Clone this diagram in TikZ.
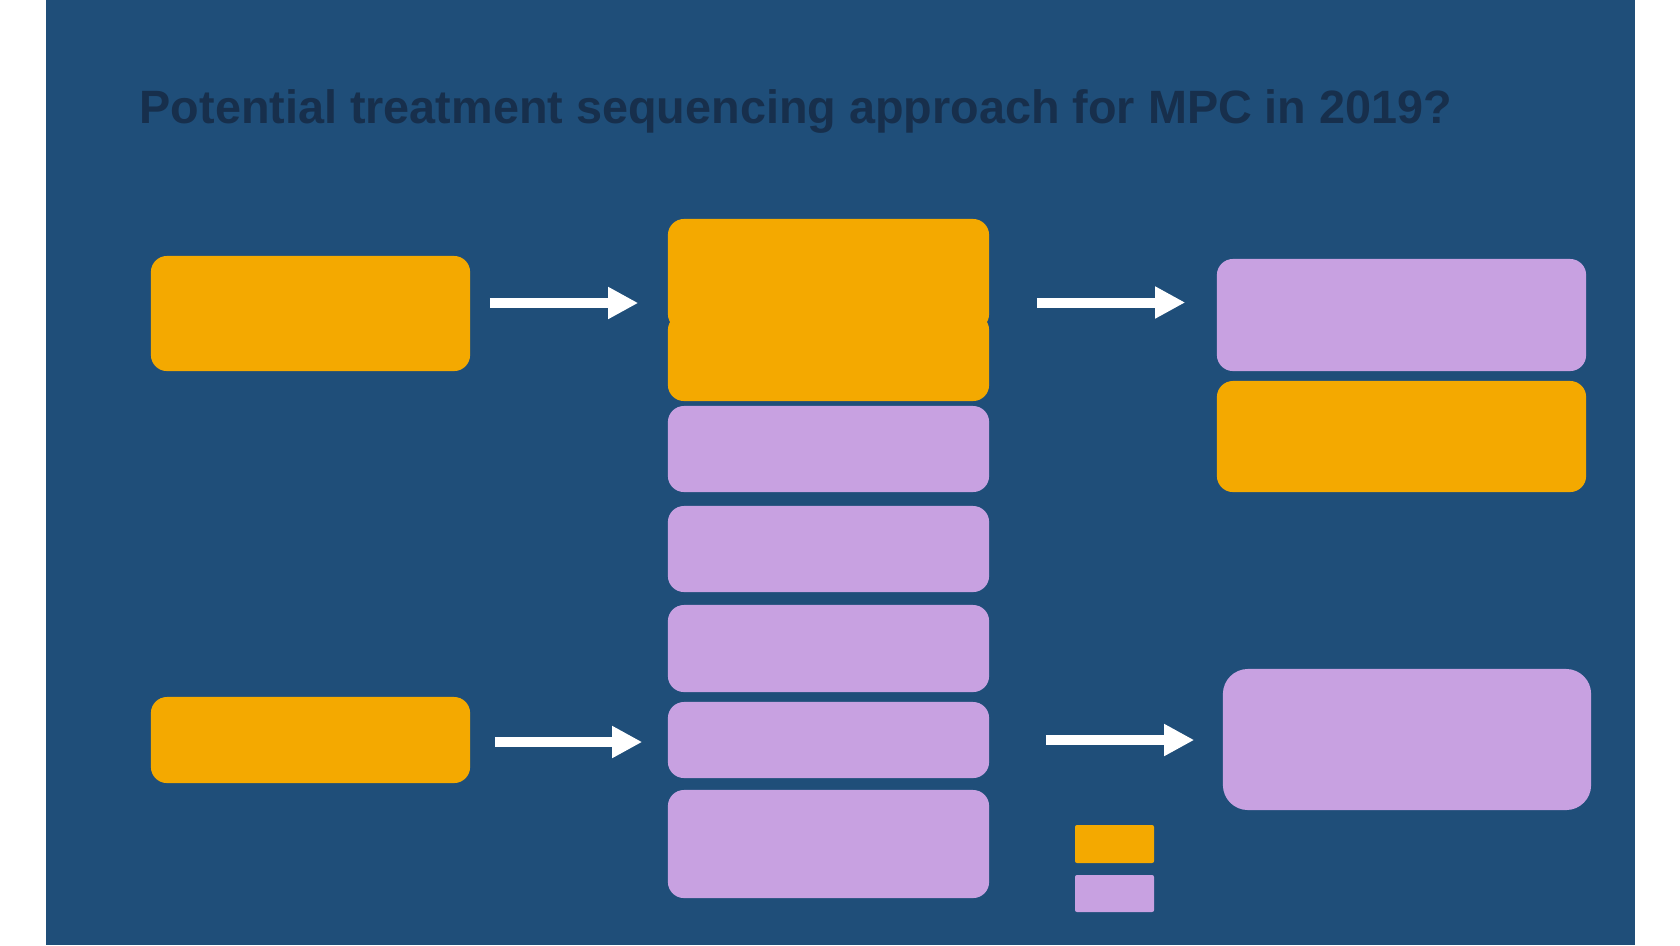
\documentclass[tikz,border=0pt]{standalone}
\usepackage{fontspec}
\setmainfont{Liberation Sans}
\usetikzlibrary{arrows.meta,calc}
\definecolor{bg}{HTML}{1F4E79}
\definecolor{gold}{HTML}{F4A900}
\definecolor{lilac}{HTML}{C8A1E1}
\definecolor{ink}{HTML}{172F4C}

\begin{document}
\begin{tikzpicture}[x=0.01cm, y=-0.01cm,
    box/.style={rounded corners=0.16cm, minimum width=3.21cm, inner sep=0pt},
    gbox/.style={box, fill=gold},
    pbox/.style={box, fill=lilac},
    key/.style={rounded corners=0.02cm, minimum width=0.79cm, inner sep=0pt},
    arr/.style={-{Triangle[length=0.3cm,width=0.3cm]}, line width=0.1cm, white}
]
\fill[white] (0,0) rectangle (1680,945);
\fill[bg] (46,0) rectangle (1635,945);
\node[anchor=base west, inner sep=0pt, text=ink, font=\fontsize{13.3pt}{16pt}\selectfont\bfseries] (title) at (139,123) {Potential treatment sequencing approach for MPC in 2019?};

% left column
\node[gbox, minimum width=3.19cm, minimum height=1.15cm] (ltop) at (310.5,313.5) {};
\node[gbox, minimum width=3.19cm, minimum height=0.86cm] (lbot) at (310.5,740) {};

% middle stack
\node[gbox, minimum height=1.11cm] (m1) at (828.5,274.5) {};
\node[gbox, minimum height=0.87cm] (m2) at (828.5,357.5) {};
\node[pbox, minimum height=0.86cm] (m3) at (828.5,449) {};
\node[pbox, minimum height=0.86cm] (m4) at (828.5,549) {};
\node[pbox, minimum height=0.87cm] (m5) at (828.5,648.5) {};
\node[pbox, minimum height=0.76cm] (m6) at (828.5,740) {};
\node[pbox, minimum height=1.08cm] (m7) at (828.5,844) {};

% right column
\node[pbox, minimum width=3.69cm, minimum height=1.12cm] (rtop) at (1401.5,315) {};
\node[gbox, minimum width=3.69cm, minimum height=1.11cm] (rmid) at (1401.5,436.5) {};
\node[pbox, minimum width=3.68cm, minimum height=1.41cm, rounded corners=0.25cm] (rbot) at (1407,739.5) {};

% key
\node[key, fill=gold, minimum height=0.38cm] (keyo) at (1114.5,844) {};
\node[key, fill=lilac, minimum height=0.37cm] (keyp) at (1114.5,893.5) {};

\draw[arr] ($(ltop.east)+(19,-10.5)$) -- ($(ltop.east -| m1.west)+(-29,-10.5)$);
\draw[arr] ($(m1.east |- rtop.west)+(47,-12.5)$) -- ($(rtop.west)+(-31,-12.5)$);
\draw[arr] ($(lbot.east)+(24,2)$) -- ($(lbot.east -| m6.west)+(-25,2)$);
\draw[arr] ($(m6.east)+(56,0)$) -- ($(rbot.west |- m6.east)+(-28,0)$);
\end{tikzpicture}
\end{document}
